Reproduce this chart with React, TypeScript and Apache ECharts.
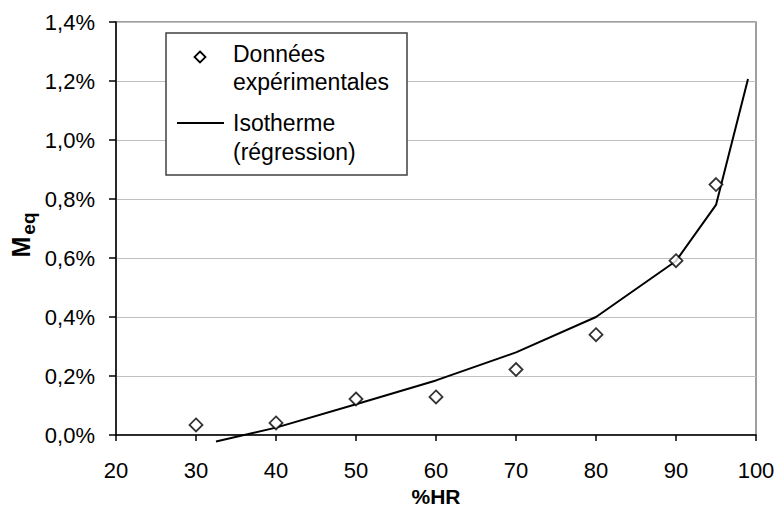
import React, { useEffect, useRef } from "react";
import * as echarts from "echarts";

const hrExp = [30, 40, 50, 60, 70, 80, 90, 95];
const meqExp = [0.034, 0.041, 0.122, 0.129, 0.222, 0.34, 0.591, 0.849];

const hrIso = [32.5, 40, 50, 60, 70, 80, 90, 95, 99];
const meqIso = [-0.022, 0.025, 0.104, 0.185, 0.28, 0.4, 0.59, 0.78, 1.207];

const xTicks = { min: 20, max: 100, step: 10 };
const yTicks = { min: 0, max: 1.4, step: 0.2 };

const legendLabels = ["Données", "expérimentales", "Isotherme", "(régression)"];

const FONT = "'Liberation Sans', Arial, sans-serif";

export default function App() {
  const ref = useRef<HTMLDivElement>(null);
  useEffect(() => {
    if (!ref.current) return;
    const chart = echarts.init(ref.current, null, { renderer: "svg" });
    const option: any = {
      animation: false,
      textStyle: { fontFamily: FONT },
      grid: {
        left: 116,
        right: 21,
        top: 22,
        bottom: 76,
        containLabel: false,
        outerBoundsMode: "none",
        show: true,
        borderColor: "#808080",
        borderWidth: 1.5,
        backgroundColor: "transparent",
      },
      xAxis: {
        type: "value",
        min: xTicks.min,
        max: xTicks.max,
        interval: xTicks.step,
        name: "%HR",
        nameLocation: "middle",
        nameGap: 51,
        nameTextStyle: { fontFamily: FONT, fontSize: 21, lineHeight: 21, fontWeight: "bold", color: "#000" },
        axisLine: { show: true, onZero: false, lineStyle: { color: "#000", width: 1.5 } },
        axisTick: { show: true, inside: false, length: 6, lineStyle: { color: "#000", width: 1.5 } },
        axisLabel: { fontFamily: FONT, fontSize: 22, color: "#000", margin: 24 },
        splitLine: { show: false },
      },
      yAxis: {
        type: "value",
        min: yTicks.min,
        max: yTicks.max,
        interval: yTicks.step,
        axisLine: { show: true, onZero: false, lineStyle: { color: "#000", width: 1.5 } },
        axisTick: { show: true, inside: false, length: 7, lineStyle: { color: "#000", width: 1.5 } },
        axisLabel: {
          fontFamily: FONT,
          fontSize: 22,
          color: "#000",
          margin: 21,
          formatter: (v: number) => v.toFixed(1).replace(".", ",") + "%",
        },
        splitLine: { show: true, lineStyle: { color: "#c0c0c0", width: 1.2 } },
      },
      series: [
        {
          name: "Isotherme (régression)",
          type: "line",
          data: hrIso.map((x, i) => [x, meqIso[i]]),
          showSymbol: false,
          symbol: "none",
          clip: false,
          lineStyle: { color: "#000", width: 2 },
          z: 3,
        },
        {
          name: "Données expérimentales",
          type: "scatter",
          data: hrExp.map((x, i) => [x, meqExp[i]]),
          symbol: "diamond",
          symbolSize: 13,
          itemStyle: { color: "#fff", borderColor: "#000", borderWidth: 1.8 },
          z: 4,
        },
      ],
      graphic: [
        {
          type: "rect",
          shape: { x: 166, y: 33, width: 241, height: 142 },
          style: { fill: "#fff", stroke: "#404040", lineWidth: 1.5 },
          z: 10,
        },
        {
          type: "polygon",
          shape: { points: [[200, 51.5], [205.5, 57], [200, 62.5], [194.5, 57]] },
          style: { fill: "#fff", stroke: "#000", lineWidth: 1.8 },
          z: 11,
        },
        {
          type: "line",
          shape: { x1: 177, y1: 123, x2: 224, y2: 123 },
          style: { stroke: "#000", lineWidth: 2 },
          z: 11,
        },
        ...legendLabels.map((t, i) => ({
          type: "text",
          x: 233,
          y: [54, 82, 123, 152][i],
          style: {
            text: t,
            fontFamily: FONT,
            fontSize: 23,
            fill: "#000",
            align: "left",
            verticalAlign: "middle",
          },
          z: 11,
        })),
        {
          type: "text",
          x: 23,
          y: 235,
          rotation: Math.PI / 2,
          style: {
            text: "{m|M}{s|eq}",
            align: "center",
            verticalAlign: "middle",
            rich: {
              m: { fontFamily: FONT, fontSize: 25, fontWeight: "bold", fill: "#000", verticalAlign: "top" },
              s: { fontFamily: FONT, fontSize: 19, fontWeight: "bold", fill: "#000", verticalAlign: "bottom", padding: [10, 0, 0, 2] },
            },
          },
          z: 11,
        },
      ],
    };
    chart.setOption(option);
    return () => chart.dispose();
  }, []);
  return <div ref={ref} style={{ width: 777, height: 511, position: "absolute", left: 0, top: 0, background: "#fff" }} />;
}
